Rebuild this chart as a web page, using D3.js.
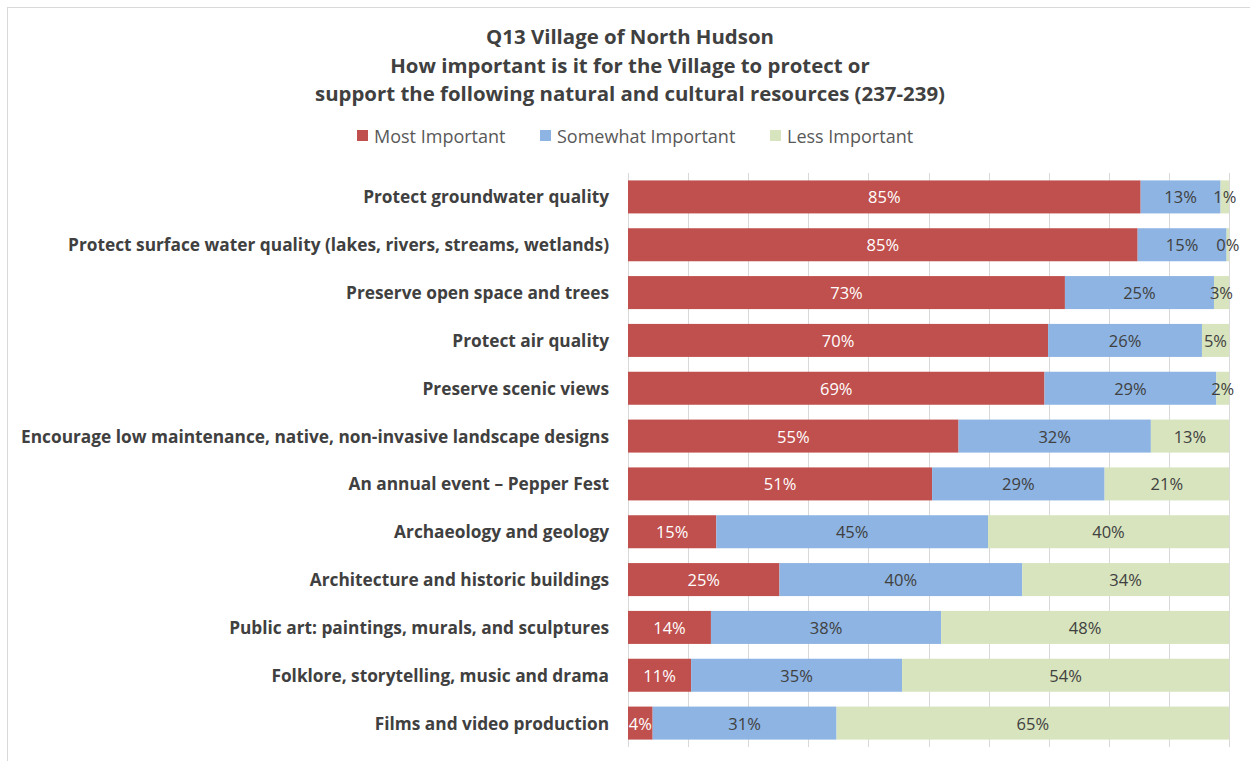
<!DOCTYPE html>
<html><head><meta charset="utf-8">
<script src="https://cdn.jsdelivr.net/npm/d3@7"></script>
<style>body{margin:0;background:#fff}svg{display:block}</style>
</head><body>
<svg id="chart" width="1250" height="761"></svg>
<script>
const categories = [
  "Protect groundwater quality",
  "Protect surface water quality (lakes, rivers, streams, wetlands)",
  "Preserve open space and trees",
  "Protect air quality",
  "Preserve scenic views",
  "Encourage low maintenance, native, non-invasive landscape designs",
  "An annual event \u2013 Pepper Fest",
  "Archaeology and geology",
  "Architecture and historic buildings",
  "Public art: paintings, murals, and sculptures",
  "Folklore, storytelling, music and drama",
  "Films and video production"
];
const mostImportant     = [85.3, 84.8, 72.7, 69.9, 69.3, 55.0, 50.6, 14.7, 25.2, 13.8, 10.5, 4.1];
const somewhatImportant = [13.3, 14.8, 24.8, 25.6, 28.6, 32.0, 28.7, 45.2, 40.4, 38.3, 35.1, 30.6];
const lessImportant     = [1.4, 0.4, 2.5, 4.5, 2.1, 13.0, 20.7, 40.1, 34.4, 47.9, 54.4, 65.3];
const seriesNames = ["Most Important", "Somewhat Important", "Less Important"];
const titleLines = ["Q13 Village of North Hudson",
  "How important is it for the Village to protect or",
  "support the following natural and cultural resources (237-239)"];
const xTicks = [0,0.1,0.2,0.3,0.4,0.5,0.6,0.7,0.8,0.9,1];

const colors = ["#C0504D", "#8DB4E2", "#D7E4BD"];
const labelColors = ["#ffffff", "#404040", "#404040"];
const FONT = "'Open Sans', Lato, sans-serif";

const svg = d3.select("#chart");
svg.append("rect").attr("x",7.5).attr("y",7.5).attr("width",1260).attr("height",780)
  .attr("fill","#fff").attr("stroke","#d9d9d9");

const rows = categories.map((c,i)=>({cat:c, "Most Important":mostImportant[i],
  "Somewhat Important":somewhatImportant[i], "Less Important":lessImportant[i]}));
const stack = d3.stack().keys(seriesNames).offset(d3.stackOffsetExpand);
const layers = stack(rows);

const pLeft = 628, pRight = 1229, pTop = 173, pBottom = 747;
const x = d3.scaleLinear().domain([0,1]).range([pLeft,pRight]);
const y = d3.scaleBand().domain(categories).range([pTop,pBottom]).paddingInner(0.31).paddingOuter(0.155);

// gridlines
svg.append("g").selectAll("line").data(xTicks).join("line")
  .attr("x1",d=>Math.round(x(d))+0.5).attr("x2",d=>Math.round(x(d))+0.5)
  .attr("y1",pTop).attr("y2",pBottom).attr("stroke","#d9d9d9").attr("stroke-width",1);

// bars
const g = svg.append("g");
layers.forEach((layer,li)=>{
  g.append("g").attr("fill",colors[li]).selectAll("rect").data(layer).join("rect")
    .attr("x",d=>x(d[0])).attr("width",d=>x(d[1])-x(d[0]))
    .attr("y",d=>y(d.data.cat)).attr("height",y.bandwidth());
});
// labels
layers.forEach((layer,li)=>{
  g.append("g").selectAll("text").data(layer).join("text")
    .attr("x",d=>(x(d[0])+x(d[1]))/2).attr("y",d=>y(d.data.cat)+y.bandwidth()/2)
    .attr("text-anchor","middle").attr("dominant-baseline","central")
    .attr("font-family",FONT).attr("font-size",16.5).attr("fill",labelColors[li])
    .text(d=>Math.round(d.data[seriesNames[li]])+"%");
});

// category axis labels
svg.append("g").selectAll("text").data(categories).join("text")
  .attr("x",609).attr("y",d=>y(d)+y.bandwidth()/2)
  .attr("text-anchor","end").attr("dominant-baseline","central")
  .attr("font-family",FONT).attr("font-weight","bold").attr("font-size",17.3).attr("fill","#404040")
  .text(d=>d);

// title
svg.append("g").selectAll("text").data(titleLines).join("text")
  .attr("x",630).attr("y",(d,i)=>44+i*28.5).attr("text-anchor","middle")
  .attr("font-family",FONT).attr("font-weight","bold").attr("font-size",20.4).attr("fill","#404040")
  .text(d=>d);

// legend
const legendX = [357, 540, 770];
const lg = svg.append("g");
seriesNames.forEach((s,i)=>{
  lg.append("rect").attr("x",legendX[i]).attr("y",130).attr("width",11).attr("height",11).attr("fill",colors[i]);
  lg.append("text").attr("x",legendX[i]+17).attr("y",136).attr("dominant-baseline","central")
    .attr("font-family",FONT).attr("font-size",18).attr("fill","#595959").text(s);
});
</script>
</body></html>
